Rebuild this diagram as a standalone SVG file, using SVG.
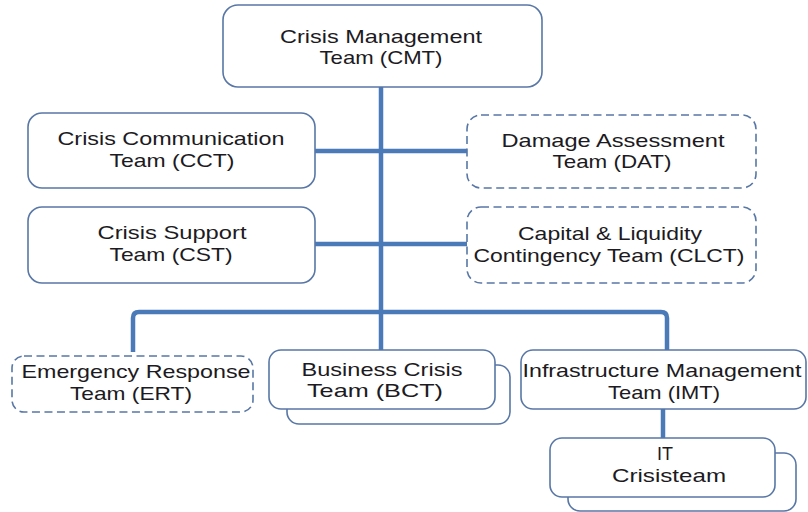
<svg xmlns="http://www.w3.org/2000/svg" width="808" height="512" viewBox="0 0 808 512">
<style>
.box{fill:#fff;stroke:#5877a6;stroke-width:1.6}
.dash{stroke-dasharray:8 4.5}
.conn{fill:none;stroke:#4a7ab8;stroke-width:4.5;stroke-linejoin:round}
text{font-family:"Liberation Sans",Arial,sans-serif;font-size:19px;fill:#1c1a22;text-anchor:middle}
</style>
<rect width="808" height="512" fill="#fff"/>
<g id="connectors">
<path class="conn" d="M381,87 V312"/>
<path class="conn" d="M315,151 H467 M315,244 H467"/>
<path class="conn" d="M133,352 V318 Q133,312 139,312 H661 Q667,312 667,318 V350"/>
<path class="conn" d="M381,312 V350"/>
<path class="conn" d="M663,409 V438"/>
</g>
<g id="cmt">
<rect class="box" x="223" y="5" width="319" height="82" rx="15"/>
<text x="381" y="43" textLength="202" lengthAdjust="spacingAndGlyphs">Crisis Management</text>
<text x="381" y="64" textLength="123" lengthAdjust="spacingAndGlyphs">Team (CMT)</text>
</g>
<g id="cct">
<rect class="box" x="28" y="113" width="287" height="75" rx="14"/>
<text x="171" y="145" textLength="227" lengthAdjust="spacingAndGlyphs">Crisis Communication</text>
<text x="172" y="167" textLength="125" lengthAdjust="spacingAndGlyphs">Team (CCT)</text>
</g>
<g id="cst">
<rect class="box" x="28" y="207" width="287" height="76" rx="14"/>
<text x="172" y="239" textLength="149" lengthAdjust="spacingAndGlyphs">Crisis Support</text>
<text x="171" y="261" textLength="123" lengthAdjust="spacingAndGlyphs">Team (CST)</text>
</g>
<g id="dat">
<rect class="box dash" x="467" y="115" width="289" height="73" rx="14"/>
<text x="613" y="147" textLength="223" lengthAdjust="spacingAndGlyphs">Damage Assessment</text>
<text x="612" y="168" textLength="119" lengthAdjust="spacingAndGlyphs">Team (DAT)</text>
</g>
<g id="clct">
<rect class="box dash" x="467" y="207" width="289" height="76" rx="14"/>
<text x="610" y="240" textLength="184" lengthAdjust="spacingAndGlyphs">Capital &amp; Liquidity</text>
<text x="609" y="262" textLength="271" lengthAdjust="spacingAndGlyphs">Contingency Team (CLCT)</text>
</g>
<g id="ert">
<rect class="box dash" x="12" y="356" width="241" height="56" rx="12"/>
<text x="136" y="378" textLength="229" lengthAdjust="spacingAndGlyphs">Emergency Response</text>
<text x="131" y="400" textLength="122" lengthAdjust="spacingAndGlyphs">Team (ERT)</text>
</g>
<g id="bct">
<rect class="box" x="287" y="365" width="223" height="59" rx="12"/>
<rect class="box" x="269" y="350" width="226" height="59" rx="12"/>
<text x="382" y="376" textLength="161" lengthAdjust="spacingAndGlyphs">Business Crisis</text>
<text x="375" y="397" textLength="136" lengthAdjust="spacingAndGlyphs">Team (BCT)</text>
</g>
<g id="imt">
<rect class="box" x="521" y="350" width="285" height="59" rx="12"/>
<text x="662" y="377" textLength="279" lengthAdjust="spacingAndGlyphs">Infrastructure Management</text>
<text x="664" y="399" textLength="112" lengthAdjust="spacingAndGlyphs">Team (IMT)</text>
</g>
<g id="it">
<rect class="box" x="568" y="453" width="228" height="58" rx="12"/>
<rect class="box" x="550" y="438" width="225" height="59" rx="12"/>
<text x="665" y="460" textLength="16" lengthAdjust="spacingAndGlyphs">IT</text>
<text x="669" y="482" textLength="114" lengthAdjust="spacingAndGlyphs">Crisisteam</text>
</g>
</svg>
